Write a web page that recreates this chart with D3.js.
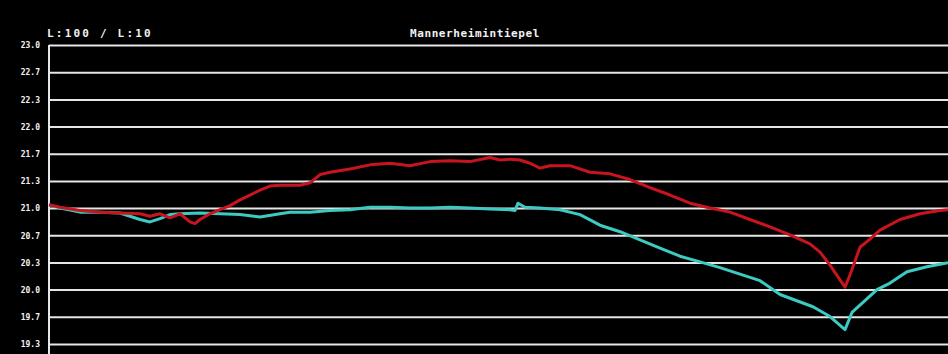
<!DOCTYPE html>
<html>
<head>
<meta charset="utf-8">
<script src="https://cdn.jsdelivr.net/npm/d3@7"></script>
<style>
  html, body { margin: 0; padding: 0; background: #000; }
  svg { display: block; }
  text { font-family: "DejaVu Sans Mono", monospace; font-weight: bold; fill: #f2f2f2; }
</style>
</head>
<body>
<svg id="chart" width="948" height="354"></svg>
<script>
// Level profile along the street: two measured lines over station (m)
const scaleLabel = "L:100 / L:10";
const title = "Mannerheimintiepel";

const gridValues = [23.0, 22.667, 22.333, 22.0, 21.667, 21.333, 21.0, 20.667, 20.333, 20.0, 19.667, 19.333];
const gridLabels = ["23.0", "22.7", "22.3", "22.0", "21.7", "21.3", "21.0", "20.7", "20.3", "20.0", "19.7", "19.3"];

const redStation = [0, 11, 31, 51, 71, 91, 101, 111, 121, 131, 141, 146, 151, 161, 171, 181, 191, 201, 211, 221, 231, 251, 261, 271, 281, 301, 321, 341, 361, 381, 401, 421, 441, 451, 461, 471, 481, 491, 501, 511, 521, 541, 561, 581, 601, 621, 641, 661, 681, 701, 721, 741, 761, 771, 781, 791, 796, 801, 811, 821, 831, 851, 871, 891, 899];
const redLevel = [21.04, 21.01, 20.97, 20.95, 20.94, 20.93, 20.90, 20.93, 20.88, 20.93, 20.83, 20.81, 20.86, 20.93, 20.98, 21.03, 21.10, 21.16, 21.22, 21.27, 21.28, 21.28, 21.31, 21.41, 21.44, 21.48, 21.53, 21.55, 21.52, 21.57, 21.58, 21.57, 21.62, 21.59, 21.60, 21.59, 21.55, 21.49, 21.52, 21.52, 21.52, 21.44, 21.42, 21.35, 21.25, 21.16, 21.06, 21.00, 20.95, 20.86, 20.77, 20.67, 20.56, 20.46, 20.30, 20.12, 20.03, 20.18, 20.52, 20.62, 20.73, 20.86, 20.93, 20.97, 20.98];

const cyanStation = [0, 11, 31, 51, 71, 81, 91, 101, 111, 121, 131, 151, 171, 191, 211, 231, 241, 261, 281, 301, 321, 341, 361, 381, 401, 421, 441, 461, 466, 469, 476, 491, 511, 531, 551, 571, 591, 611, 631, 651, 671, 691, 711, 731, 764, 781, 796, 803, 828, 841, 858, 878, 899];
const cyanLevel = [21.04, 21.00, 20.95, 20.95, 20.94, 20.90, 20.86, 20.83, 20.87, 20.92, 20.93, 20.94, 20.93, 20.92, 20.89, 20.93, 20.95, 20.95, 20.97, 20.98, 21.01, 21.01, 21.00, 21.00, 21.01, 21.00, 20.99, 20.98, 20.97, 21.06, 21.01, 21.00, 20.98, 20.92, 20.79, 20.71, 20.61, 20.51, 20.41, 20.34, 20.27, 20.19, 20.11, 19.94, 19.79, 19.67, 19.51, 19.72, 20.00, 20.08, 20.22, 20.28, 20.33];

const svg = d3.select("#chart");
const W = 948, H = 354;
const plotLeft = 49, plotTop = 45, plotBottom = 344;

const x = d3.scaleLinear().domain([0, 899]).range([plotLeft, W]);
const y = d3.scaleLinear().domain([gridValues[0], gridValues[gridValues.length - 1]]).range([plotTop, plotBottom]);

// horizontal grid lines with labels on the left
const yAxis = d3.axisLeft(y)
  .tickValues(gridValues)
  .tickSize(-(W - plotLeft))
  .tickPadding(9)
  .tickFormat((d, i) => gridLabels[i]);

const g = svg.append("g").attr("transform", `translate(${plotLeft},0)`).call(yAxis);
g.select(".domain").remove();
g.selectAll(".tick line").attr("stroke", "#e6e6e6").attr("stroke-width", 2);
g.selectAll(".tick text")
  .attr("font-size", 8)
  .attr("dy", "0.35em")
  .style("font-family", "'DejaVu Sans Mono', monospace")
  .style("font-weight", "bold")
  .attr("fill", "#f2f2f2");

// left frame line
svg.append("line")
  .attr("x1", plotLeft).attr("x2", plotLeft)
  .attr("y1", plotTop).attr("y2", H)
  .attr("stroke", "#e6e6e6").attr("stroke-width", 2);

const line = d3.line().x(d => x(d[0])).y(d => y(d[1]));

svg.append("path")
  .datum(cyanStation.map((s, i) => [s, cyanLevel[i]]))
  .attr("d", line)
  .attr("fill", "none")
  .attr("stroke", "#3ccac2")
  .attr("stroke-width", 3)
  .attr("stroke-linejoin", "round");

svg.append("path")
  .datum(redStation.map((s, i) => [s, redLevel[i]]))
  .attr("d", line)
  .attr("fill", "none")
  .attr("stroke", "#c8141e")
  .attr("stroke-width", 3)
  .attr("stroke-linejoin", "round");

// header texts
svg.append("text")
  .attr("x", 47).attr("y", 37)
  .attr("font-size", 11)
  .attr("letter-spacing", 2.2)
  .text(scaleLabel);

svg.append("text")
  .attr("x", 475).attr("y", 37)
  .attr("text-anchor", "middle")
  .attr("font-size", 11)
  .attr("letter-spacing", 0.6)
  .text(title);
</script>
</body>
</html>
